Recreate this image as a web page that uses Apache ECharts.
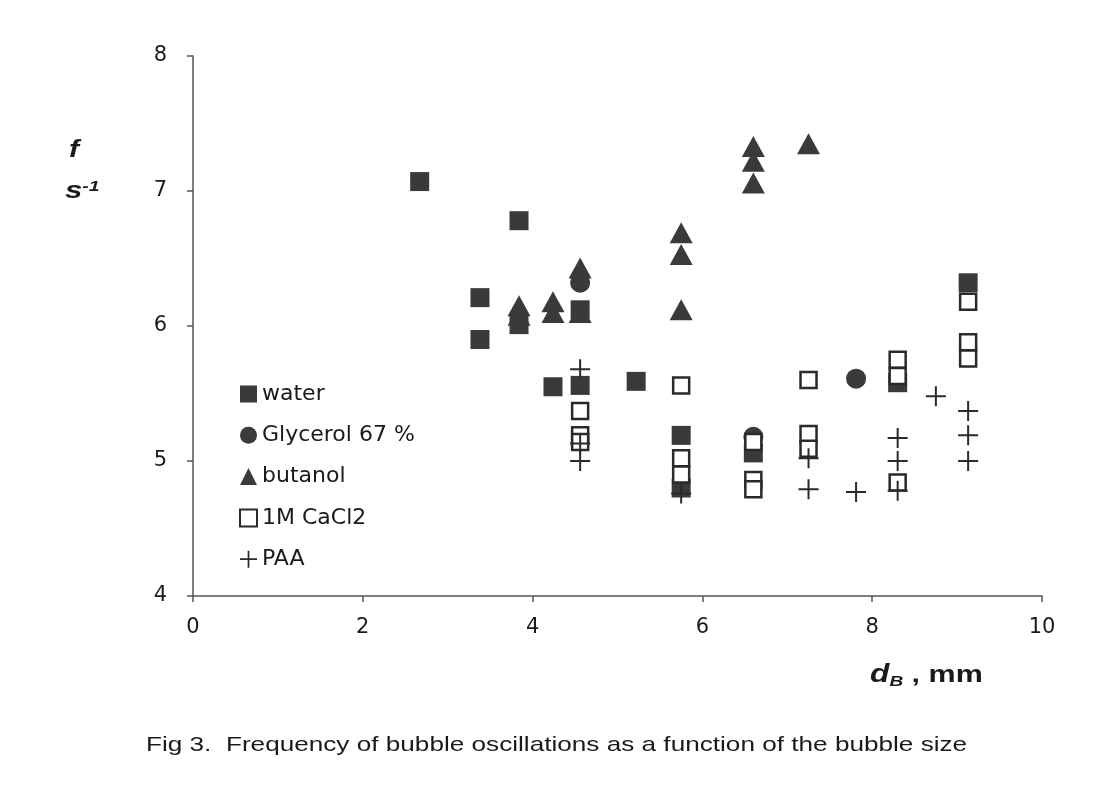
<!DOCTYPE html>
<html><head><meta charset="utf-8">
<script src="https://cdn.jsdelivr.net/npm/echarts@6/dist/echarts.min.js"></script>
<style>html,body{margin:0;padding:0;background:#fff;}#c{width:1101px;height:789px;}</style>
</head><body><div id="c"></div>
<script>
const xTicks = [0, 2, 4, 6, 8, 10];
const yTicks = [4, 5, 6, 7, 8];
const seriesNames = ['water', 'Glycerol 67 %', 'butanol', '1M CaCl2', 'PAA'];
const water = [[2.67,7.07],[3.38,6.21],[3.38,5.90],[3.84,6.78],[3.84,6.01],[4.24,5.55],[4.56,5.56],[4.56,6.12],[5.22,5.59],[5.75,5.19],[5.75,4.80],[6.6,5.06],[8.3,5.58],[9.13,6.32]];
const glycerol = [[4.56,6.32],[6.6,5.18],[7.81,5.61]];
const butanol = [[3.84,6.15],[3.84,6.08],[4.24,6.18],[4.24,6.10],[4.56,6.43],[4.56,6.10],[5.75,6.69],[5.75,6.53],[5.75,6.12],[6.6,7.33],[6.6,7.22],[6.6,7.06],[7.25,7.35]];
const cacl2 = [[4.56,5.37],[4.56,5.19],[4.56,5.14],[5.75,5.56],[5.75,5.02],[5.75,4.90],[6.6,5.14],[6.6,4.86],[6.6,4.79],[7.25,5.60],[7.25,5.20],[7.25,5.09],[8.3,5.75],[8.3,5.63],[8.3,4.84],[9.13,6.18],[9.13,5.88],[9.13,5.76]];
const paa = [[4.56,5.68],[4.56,5.13],[4.56,5.00],[5.75,4.76],[7.25,5.02],[7.25,4.79],[7.81,4.77],[8.3,5.17],[8.3,5.00],[8.3,4.78],[8.75,5.48],[9.13,5.37],[9.13,5.19],[9.13,5.00]];

const dark = '#3a3a3a';
const plusPath = 'path://M9,0h2v9h9v2h-9v9h-2v-9h-9v-2h9z';
const font = '"Liberation Sans", Arial, sans-serif';
const wideFont = '"DejaVu Sans", Verdana, sans-serif';

const chart = echarts.init(document.getElementById('c'), null, {renderer: 'canvas'});
chart.setOption({
  backgroundColor: '#fff',
  animation: false,
  grid: {left: 193, right: 59, top: 56, bottom: 193, containLabel: false},
  xAxis: {
    type: 'value', min: xTicks[0], max: xTicks[xTicks.length-1], interval: 2,
    axisLine: {lineStyle: {color: '#555', width: 1.5}},
    axisTick: {show: true, length: 6, lineStyle: {color: '#555', width: 1.5}},
    axisLabel: {color: '#1a1a1a', fontSize: 21, fontFamily: wideFont, margin: 21},
    splitLine: {show: false}
  },
  yAxis: {
    type: 'value', min: yTicks[0], max: yTicks[yTicks.length-1], interval: 1,
    axisLine: {show: true, lineStyle: {color: '#555', width: 1.5}},
    axisTick: {show: true, length: 6, lineStyle: {color: '#555', width: 1.5}},
    axisLabel: {color: '#1a1a1a', fontSize: 21, fontFamily: wideFont, margin: 26},
    splitLine: {show: false}
  },
  legend: {
    orient: 'vertical', left: 234, top: 378, itemWidth: 17, itemHeight: 17, itemGap: 19.3,
    textStyle: {fontSize: 22, fontFamily: wideFont, color: '#1a1a1a'},
    data: seriesNames
  },
  series: [
    {name: seriesNames[0], type: 'scatter', data: water, symbol: 'rect', symbolSize: 19,
     itemStyle: {color: dark, opacity: 1}},
    {name: seriesNames[1], type: 'scatter', data: glycerol, symbol: 'circle', symbolSize: 20,
     itemStyle: {color: dark, opacity: 1}},
    {name: seriesNames[2], type: 'scatter', data: butanol, symbol: 'triangle', symbolSize: [23, 21],
     itemStyle: {color: dark, opacity: 1}},
    {name: seriesNames[3], type: 'scatter', data: cacl2, symbol: 'rect', symbolSize: 16,
     itemStyle: {color: '#fff', borderColor: '#2a2a2a', borderWidth: 2.5, opacity: 1}},
    {name: seriesNames[4], type: 'scatter', data: paa, symbol: plusPath, symbolSize: 20,
     itemStyle: {color: '#2a2a2a', opacity: 1}}
  ],
  graphic: [
    {type: 'text', left: 69, top: 138, scaleX: 1.25, style: {text: 'f', font: 'italic bold 24px ' + font, fill: '#1a1a1a'}},
    {type: 'text', left: 65, top: 179, scaleX: 1.3, style: {
      text: '{b|s}{sup|-1}', fill: '#1a1a1a',
      rich: {b: {font: 'italic bold 24px ' + font, fill: '#1a1a1a'}, sup: {font: 'italic bold 15px ' + font, fill: '#1a1a1a', verticalAlign: 'top', padding: [0,0,10,0]}}
    }},
    {type: 'text', left: 870, top: 663, scaleX: 1.27, style: {
      text: '{d|d}{s|B}{t| , mm}', fill: '#1a1a1a',
      rich: {d: {font: 'italic bold 25px ' + font, fill: '#1a1a1a'}, s: {font: 'italic bold 15px ' + font, fill: '#1a1a1a', padding: [12,0,0,0]}, t: {font: 'bold 24px ' + font, fill: '#1a1a1a'}}
    }},
    {type: 'text', left: 146, top: 735, scaleX: 1.245, style: {text: 'Fig 3.  Frequency of bubble oscillations as a function of the bubble size', font: '21px ' + font, fill: '#1a1a1a'}}
  ]
});
</script></body></html>
